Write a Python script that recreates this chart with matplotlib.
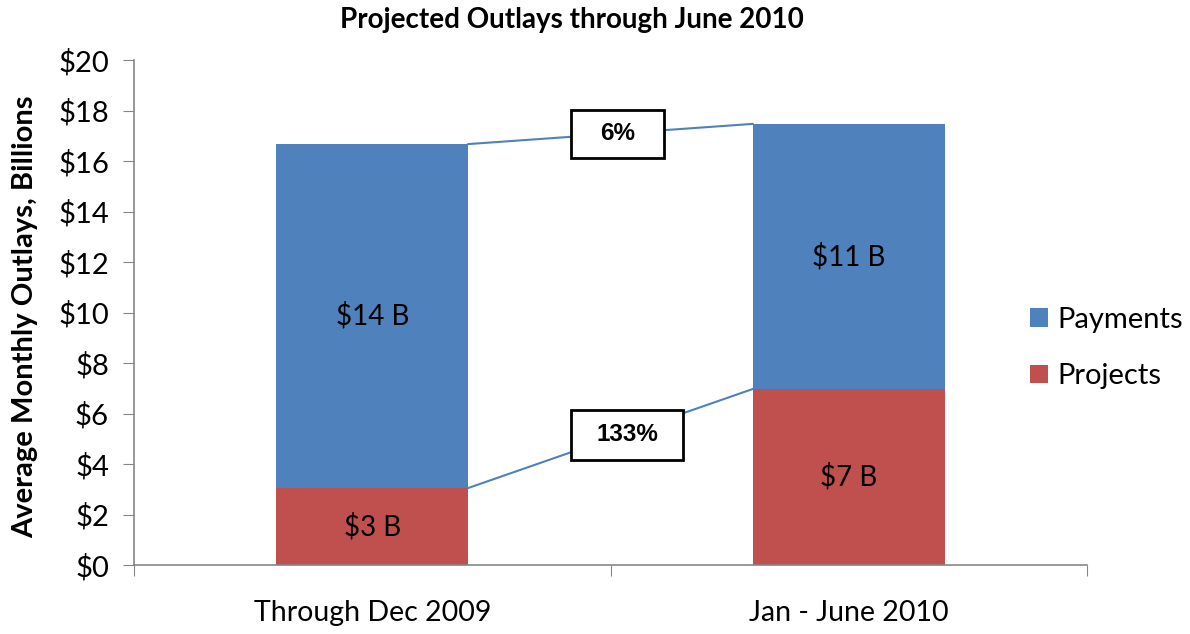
import matplotlib
matplotlib.use("Agg")
import matplotlib.pyplot as plt
from matplotlib.patches import Rectangle

categories = ["Through Dec 2009", "Jan - June 2010"]
projects = [3.05, 6.97]
payments = [13.62, 10.50]
project_labels = ["$3 B", "$7 B"]
payment_labels = ["$14 B", "$11 B"]
change_labels = ["6%", "133%"]
yticks = [0, 2, 4, 6, 8, 10, 12, 14, 16, 18, 20]
ytick_labels = [f"${v}" for v in yticks]

BLUE = "#4F81BD"
RED = "#C0504D"
GRAY = "#868686"
FONT = "Lato"

fig = plt.figure(figsize=(11.9, 6.34), dpi=100)
ax = fig.add_axes([134/1190, 1-565/634, (1087-134)/1190, (565-60)/634])

x = [0.5, 1.5]
w = 0.403
ax.bar(x, projects, width=w, color=RED, label="Projects", zorder=2)
totals = [p + q for p, q in zip(projects, payments)]
ax.bar(x, payments, width=w, bottom=projects, color=BLUE, label="Payments", zorder=2)

# connector lines
ax.plot([x[0] + w/2, x[1] - w/2], [totals[0], totals[1]], color=BLUE, lw=1.5, zorder=3)
ax.plot([x[0] + w/2, x[1] - w/2], [projects[0], projects[1]], color=BLUE, lw=1.5, zorder=3)

# value labels
for xi, p, q, pl, ql in zip(x, projects, payments, project_labels, payment_labels):
    ax.text(xi, p/2, pl, ha="center", va="center", fontsize=20, family=FONT, zorder=4)
    ax.text(xi, p + q/2, ql, ha="center", va="center", fontsize=20, family=FONT, zorder=4)

# change boxes
boxes = [(0.4586, 0.806, 0.0975, 0.095), (0.4586, 0.208, 0.1175, 0.099)]
for (bx, by, bw, bh), lab in zip(boxes, change_labels):
    ax.add_patch(Rectangle((bx, by), bw, bh, transform=ax.transAxes, facecolor="white",
                           edgecolor="black", lw=2, zorder=5))
    ax.text(bx + bw/2, by + bh/2, lab, transform=ax.transAxes, ha="center", va="center",
            fontsize=17.5, fontweight="bold", family="Liberation Sans", zorder=6)

ax.set_xlim(0, 2)
ax.set_ylim(0, 20)
ax.set_yticks(yticks)
ax.set_yticklabels(ytick_labels, family=FONT, fontsize=21)
ax.set_xticks([0, 1, 2], minor=False)
ax.set_xticklabels([])
ax.set_xticks(x, minor=True)
ax.set_xticklabels(categories, minor=True, family=FONT, fontsize=20.5)
ax.tick_params(axis="x", which="minor", length=0, pad=25)
ax.tick_params(axis="x", which="major", length=8, direction="out", color=GRAY)
ax.tick_params(axis="y", length=8, direction="out", color=GRAY, pad=10)

for s in ["top", "right"]:
    ax.spines[s].set_visible(False)
for s in ["left", "bottom"]:
    ax.spines[s].set_color(GRAY)
    ax.spines[s].set_linewidth(1.2)

ax.set_ylabel("Average Monthly Outlays, Billions", family=FONT, fontsize=21,
              fontweight="bold")
ax.yaxis.set_label_coords(-0.1007, 0.491)
fig.text(572/1190, 1-20/634, "Projected Outlays through June 2010", ha="center", va="center",
         family=FONT, fontsize=20, fontweight="bold")

handles, labels = ax.get_legend_handles_labels()
leg = fig.legend(handles[::-1], labels[::-1], loc="center left",
                 bbox_to_anchor=(1030/1190, 1-348/634), frameon=False, borderpad=0,
                 borderaxespad=0,
                 prop={"family": FONT, "size": 21}, handlelength=0.6, handleheight=0.6,
                 handletextpad=0.34, labelspacing=1.06)

fig.savefig("out.png", dpi=100)
